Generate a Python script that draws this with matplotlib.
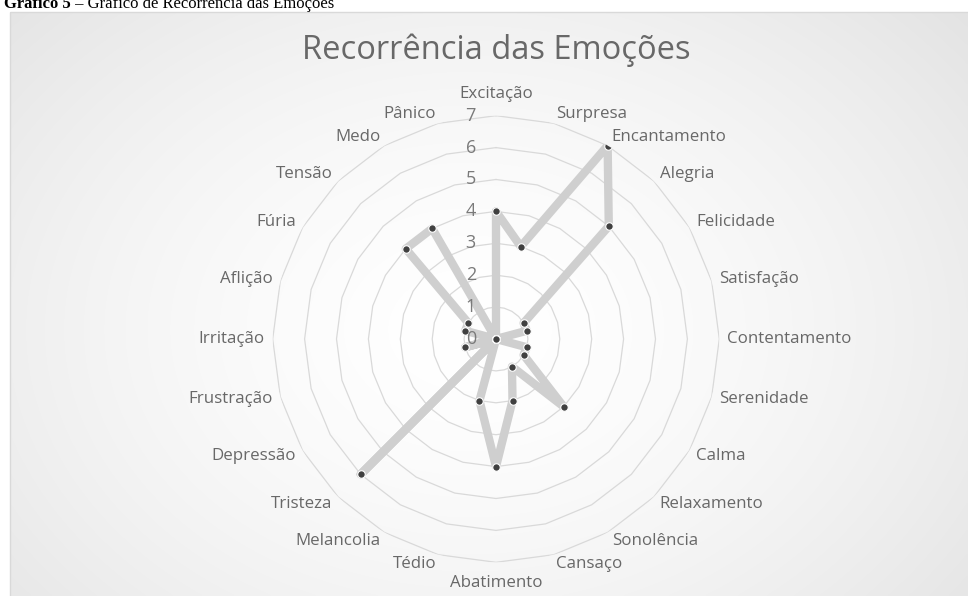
import numpy as np
import matplotlib
matplotlib.use("Agg")
import matplotlib.pyplot as plt
from matplotlib.patches import Rectangle

# ---- data ----
categories = ["Excitação", "Surpresa", "Encantamento", "Alegria", "Felicidade",
              "Satisfação", "Contentamento", "Serenidade", "Calma", "Relaxamento",
              "Sonolência", "Cansaço", "Abatimento", "Tédio", "Melancolia",
              "Tristeza", "Depressão", "Frustração", "Irritação", "Aflição",
              "Fúria", "Tensão", "Medo", "Pânico"]
values = [4, 3, 7, 5, 1, 1, 0, 1, 1, 3, 1, 2, 4, 2, 0, 6, 0, 1, 0, 1, 1, 4, 4, 0]
r_ticks = [0, 1, 2, 3, 4, 5, 6, 7]
title = "Recorrência das Emoções"
caption_bold = "Gráfico 5"
caption_rest = " – Gráfico de Recorrência das Emoções"

W, H = 968, 596
fig = plt.figure(figsize=(W / 100, H / 100), dpi=100)
fig.patch.set_facecolor("white")

# ---- background chart area with soft gradient ----
bg = fig.add_axes([0, 0, 1, 1], zorder=-5)
bg.set_xlim(0, W)
bg.set_ylim(H, 0)
bg.axis("off")
x0, y0 = 10, 12
xs = np.linspace(x0, W, 400)
ys = np.linspace(y0, H, 250)
X, Y = np.meshgrid(xs, ys)
d = np.sqrt(((X - 470) / 560) ** 2 + ((Y - 330) / 420) ** 2)
shade = 1 - 0.085 * np.clip(d, 0, 1.4) ** 1.6
img = np.dstack([shade, shade, shade])
bg.imshow(img, extent=[x0, W, H, y0], aspect="auto", interpolation="bilinear", zorder=0)
bg.add_patch(Rectangle((x0, y0), W - x0 + 5, H - y0 + 5, fill=False,
                       edgecolor="#d9d9d9", lw=1.0, zorder=1))

# caption (cut at the top edge, as in the source document)
fs_cap = 12
t1 = bg.text(4, 8, caption_bold, fontsize=fs_cap, fontweight="bold",
             family="Liberation Serif", ha="left", va="baseline", color="black")
fig.canvas.draw()
bb = t1.get_window_extent()
bg.text(4 + bb.width, 8, caption_rest, fontsize=fs_cap, family="Liberation Serif",
        ha="left", va="baseline", color="black")

# title
bg.text(496, 50, title, fontsize=23.5, family="Open Sans", color="#686868",
        ha="center", va="center")

# ---- radar ----
cx, cy, R = 496, 339, 223.3
ax = fig.add_axes([(cx - R) / W, (H - cy - R) / H, 2 * R / W, 2 * R / H],
                  projection="polar")
ax.set_facecolor("none")
ax.set_theta_zero_location("N")
ax.set_theta_direction(-1)
ax.set_ylim(0, max(r_ticks))
ax.spines["polar"].set_visible(False)
ax.grid(False)
ax.set_xticks([])
ax.set_yticks([])

N = len(categories)
theta = np.linspace(0, 2 * np.pi, N, endpoint=False)
theta_c = np.append(theta, theta[0])

for r in r_ticks[1:]:
    ax.plot(theta_c, [r] * (N + 1), color="#d9d9d9", lw=0.9, zorder=1)

vals_c = values + values[:1]
ax.plot(theta_c, vals_c, color="#cfcfcf", lw=6.0, solid_joinstyle="round",
        solid_capstyle="round", zorder=3)
ax.plot(theta, values, linestyle="none", marker="o", markersize=5.4,
        markerfacecolor="#404040", markeredgecolor="white", markeredgewidth=0.8,
        zorder=4)

for r in r_ticks:
    ax.annotate(str(r), xy=(0, r), xytext=(-20, 0), textcoords="offset pixels",
                ha="right", va="center", fontsize=13, family="Open Sans",
                color="#7a7a7a", zorder=5, annotation_clip=False)

rmax = max(r_ticks)
for ang, cat in zip(theta, categories):
    s, c = np.sin(ang), np.cos(ang)
    if abs(s) < 0.05:
        off = (0, 22 if c > 0 else -21)
        ha = "center"
    else:
        off = (8 * s, 10 * c)
        ha = "left" if s > 0 else "right"
    ax.annotate(cat, xy=(ang, rmax), xytext=off, textcoords="offset pixels",
                ha=ha, va="center", fontsize=12.2, family="Open Sans",
                color="#686868", annotation_clip=False)

fig.savefig("out.png", dpi=100)
